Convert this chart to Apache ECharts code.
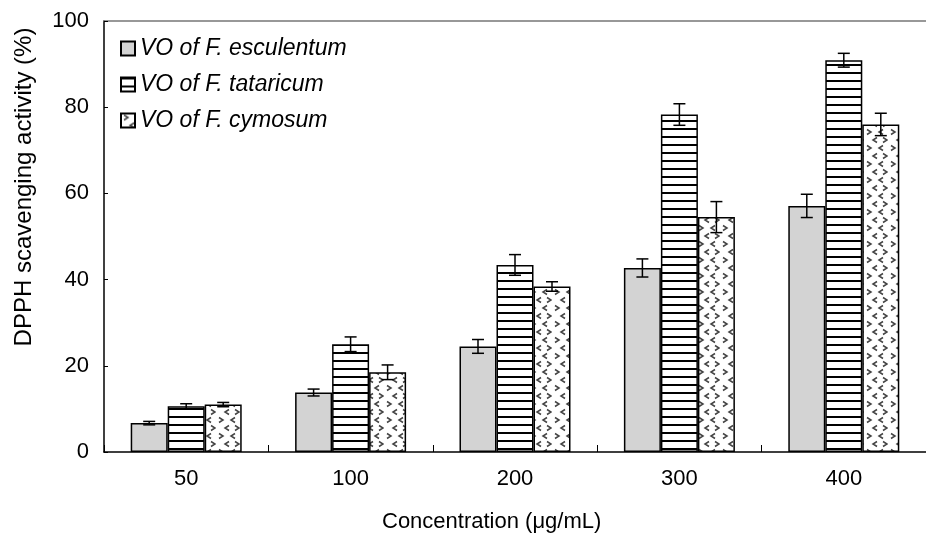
<!DOCTYPE html>
<html>
<head>
<meta charset="utf-8">
<script src="https://cdn.jsdelivr.net/npm/echarts@6/dist/echarts.min.js"></script>
<style>html,body{margin:0;padding:0;background:#fff}#c{width:926px;height:535px}</style>
</head>
<body>
<div id="c"></div>
<script>
const categories = ['50', '100', '200', '300', '400'];
const seriesNames = ['VO of F. esculentum', 'VO of F. tataricum', 'VO of F. cymosum'];
const esculentum = [6.7, 13.8, 24.5, 42.7, 57.1];
const esculentumErr = [0.4, 0.8, 1.6, 2.1, 2.7];
const tataricum = [10.6, 25.0, 43.4, 78.3, 90.9];
const tataricumErr = [0.6, 1.7, 2.4, 2.5, 1.6];
const cymosum = [11.0, 18.5, 38.4, 54.5, 76.0];
const cymosumErr = [0.5, 1.7, 1.1, 3.6, 2.6];
const yTicks = { min: 0, max: 100, interval: 20 };

function stripePattern() {
  const c = document.createElement('canvas');
  c.width = 8; c.height = 8;
  const g = c.getContext('2d');
  g.fillStyle = '#fff'; g.fillRect(0, 0, 8, 8);
  g.fillStyle = '#000'; g.fillRect(0, 0, 8, 2);
  return c;
}
function chevronPattern() {
  const c = document.createElement('canvas');
  c.width = 24; c.height = 16;
  const g = c.getContext('2d');
  g.fillStyle = '#fff'; g.fillRect(0, 0, 24, 16);
  g.strokeStyle = '#444'; g.lineWidth = 1.5;
  function ch(x, y, dir) {
    g.beginPath();
    g.moveTo(x - 2 * dir, y - 2.5);
    g.lineTo(x + 2 * dir, y);
    g.lineTo(x - 2 * dir, y + 2.5);
    g.stroke();
  }
  ch(5, 4, 1); ch(17, 4, -1);
  ch(11, 12, -1); ch(21, 12, 1);
  return c;
}

const fills = [
  '#d3d3d3',
  { image: stripePattern(), repeat: 'repeat' },
  { image: chevronPattern(), repeat: 'repeat' }
];
const values = [esculentum, tataricum, cymosum];
const errs = [esculentumErr, tataricumErr, cymosumErr];
const BW = 37;
const offsets = [-BW, 0, BW];

const chart = echarts.init(document.getElementById('c'));
const font = 'Liberation Sans, Arial, sans-serif';

const series = [];
values.forEach((vals, i) => {
  series.push({
    name: seriesNames[i],
    type: 'bar',
    data: vals,
    barWidth: BW,
    barGap: '0%',
    itemStyle: { color: fills[i], borderColor: '#000', borderWidth: 1.5 },
    emphasis: { disabled: true }
  });
});
values.forEach((vals, i) => {
  series.push({
    type: 'custom',
    data: vals.map((v, k) => [k, v, errs[i][k]]),
    z: 5,
    silent: true,
    renderItem: function (params, api) {
      const k = api.value(0), v = api.value(1), e = api.value(2);
      const t = api.coord([k, v + e]);
      const b = api.coord([k, v - e]);
      const x = t[0] + offsets[i];
      const cap = 6;
      const st = { stroke: '#000', lineWidth: 1.5 };
      return {
        type: 'group',
        children: [
          { type: 'line', shape: { x1: x, y1: t[1], x2: x, y2: b[1] }, style: st },
          { type: 'line', shape: { x1: x - cap, y1: t[1], x2: x + cap, y2: t[1] }, style: st },
          { type: 'line', shape: { x1: x - cap, y1: b[1], x2: x + cap, y2: b[1] }, style: st }
        ]
      };
    }
  });
});

chart.setOption({
  animation: false,
  backgroundColor: '#fff',
  grid: { left: 104, top: 21, width: 835, height: 431 },
  legend: {
    data: seriesNames.map(n => ({ name: n, icon: 'rect' })),
    orient: 'vertical',
    left: 120,
    top: 37,
    padding: 0,
    itemWidth: 14,
    itemHeight: 14,
    itemGap: 13,
    textStyle: { fontFamily: font, fontSize: 23, fontStyle: 'italic', color: '#000' },
    selectedMode: false
  },
  xAxis: [{
    type: 'category',
    data: categories,
    axisLine: { lineStyle: { color: '#000', width: 1.5 } },
    axisTick: { show: true, inside: true, length: 7, lineStyle: { color: '#000', width: 1 } },
    axisLabel: { fontFamily: font, fontSize: 22, color: '#000', margin: 16 }
  }, {
    type: 'category',
    data: categories,
    position: 'top',
    axisLine: { lineStyle: { color: '#777', width: 1.5 } },
    axisTick: { show: false },
    axisLabel: { show: false }
  }],
  yAxis: {
    type: 'value',
    min: yTicks.min, max: yTicks.max, interval: yTicks.interval,
    axisLine: { show: true, lineStyle: { color: '#000', width: 1.5 } },
    axisTick: { show: true, inside: true, length: 4, lineStyle: { color: '#000', width: 1 } },
    axisLabel: { fontFamily: font, fontSize: 22, color: '#000', margin: 15 },
    splitLine: { show: false }
  },
  graphic: [{
    type: 'text',
    left: 382,
    top: 511,
    style: { text: 'Concentration (μg/mL)', fontFamily: font, fontSize: 22, fill: '#000' }
  }, {
    type: 'text',
    x: 24,
    y: 187,
    rotation: Math.PI / 2,
    style: { text: 'DPPH scavenging activity (%)', fontFamily: font, fontSize: 24, fill: '#000', align: 'center', verticalAlign: 'middle' }
  }],
  series: series
});
</script>
</body>
</html>
